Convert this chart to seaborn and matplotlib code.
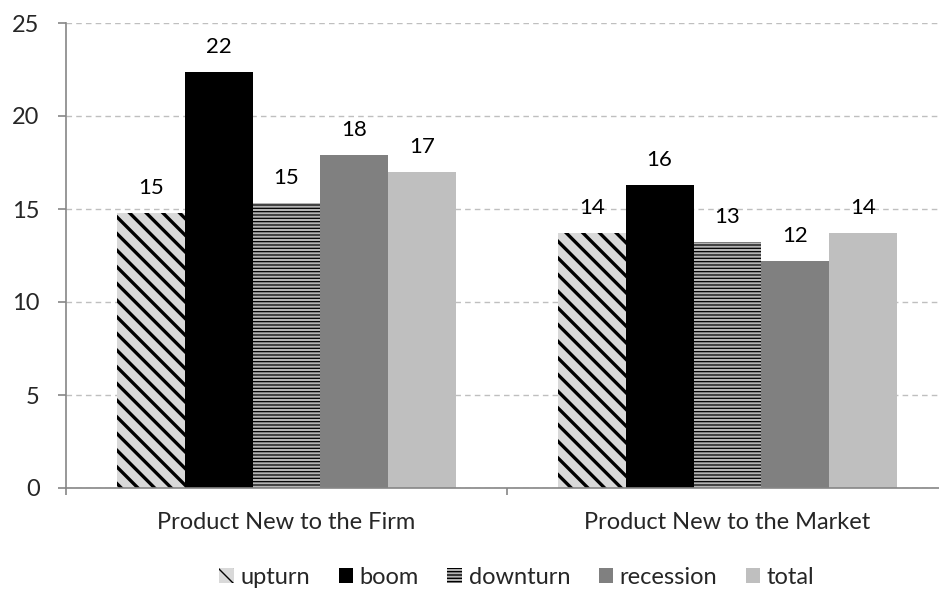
import matplotlib
matplotlib.use('Agg')
import matplotlib.pyplot as plt
import matplotlib.patches as mpatches
from matplotlib.ticker import FixedLocator
import pandas as pd
import seaborn as sns

# datos
categorias = ['Product New to the Firm', 'Product New to the Market']
series = ['upturn', 'boom', 'downturn', 'recession', 'total']
valores_firm = [14.8, 22.35, 15.3, 17.9, 17.0]
valores_market = [13.7, 16.3, 13.2, 12.2, 13.7]
y_ticks = [0, 5, 10, 15, 20, 25]

# estilo de cada serie
colores = ['#d9d9d9', '#000000', '#b4b4b4', '#808080', '#bfbfbf']
tramas = ['\\\\', None, '-----', None, None]
grosor_trama = [2.4, 1.0, 0.9, 1.0, 1.0]

filas = []
for cat, vals in zip(categorias, [valores_firm, valores_market]):
    for s, v in zip(series, vals):
        filas.append({'categoria': cat, 'serie': s, 'valor': v})
df = pd.DataFrame(filas)

sns.set_style('white')
plt.rcParams['font.family'] = ['Lato', 'DejaVu Sans']
plt.rcParams['hatch.color'] = 'black'

fig = plt.figure(figsize=(9.39, 5.92), dpi=100)
ax = fig.add_axes([66 / 939, 104 / 592, (948 - 66) / 939, (488 - 23) / 592])

sns.barplot(data=df, x='categoria', y='valor', hue='serie', hue_order=series,
            palette=colores, width=0.77, saturation=1, linewidth=0,
            legend=False, ax=ax)

for cont, trama, lw in zip(ax.containers, tramas, grosor_trama):
    for barra in cont:
        if trama:
            barra.set_hatch(trama)
            barra.set_edgecolor('black')
            barra.set_linewidth(0)
            if hasattr(barra, 'set_hatch_linewidth'):
                barra.set_hatch_linewidth(lw)
        # etiqueta redondeada encima de la barra
        ax.annotate(f'{barra.get_height():.0f}',
                    (barra.get_x() + barra.get_width() / 2, barra.get_height()),
                    xytext=(0, 18), textcoords='offset points',
                    ha='center', va='center', fontsize=16, color='black')

ax.set_ylim(0, 25)
ax.set_xlim(-0.5, 1.5)
ax.set_yticks(y_ticks)
ax.set_xlabel('')
ax.set_ylabel('')
ax.yaxis.grid(True, linestyle=(0, (4, 3)), color='#bfbfbf', linewidth=1)
ax.set_axisbelow(True)

for lado in ['top', 'right']:
    ax.spines[lado].set_visible(False)
for lado in ['left', 'bottom']:
    ax.spines[lado].set_color('#868686')
    ax.spines[lado].set_linewidth(1.2)

ax.tick_params(axis='y', direction='out', length=6, width=1.2, color='#868686',
               labelsize=17, pad=13, left=True)
ax.tick_params(axis='x', which='major', length=0, labelsize=17, pad=17)
ax.xaxis.set_minor_locator(FixedLocator([-0.5, 0.5, 1.5]))
ax.tick_params(axis='x', which='minor', direction='out', length=5, width=1.2,
               color='#868686', bottom=True)

manijas = []
for s, c, trama, lw in zip(series, colores, tramas, grosor_trama):
    p = mpatches.Patch(facecolor=c, edgecolor='black' if trama else c,
                       hatch=trama, linewidth=0, label=s)
    if trama and hasattr(p, 'set_hatch_linewidth'):
        p.set_hatch_linewidth(min(lw, 1.2))
    manijas.append(p)
fig.legend(handles=manijas, loc='center', bbox_to_anchor=(517 / 939, 15 / 592),
           ncol=5, frameon=False, fontsize=17, handlelength=0.6,
           handleheight=0.6, handletextpad=0.3, columnspacing=1.2)

fig.savefig('out.png', dpi=100)
